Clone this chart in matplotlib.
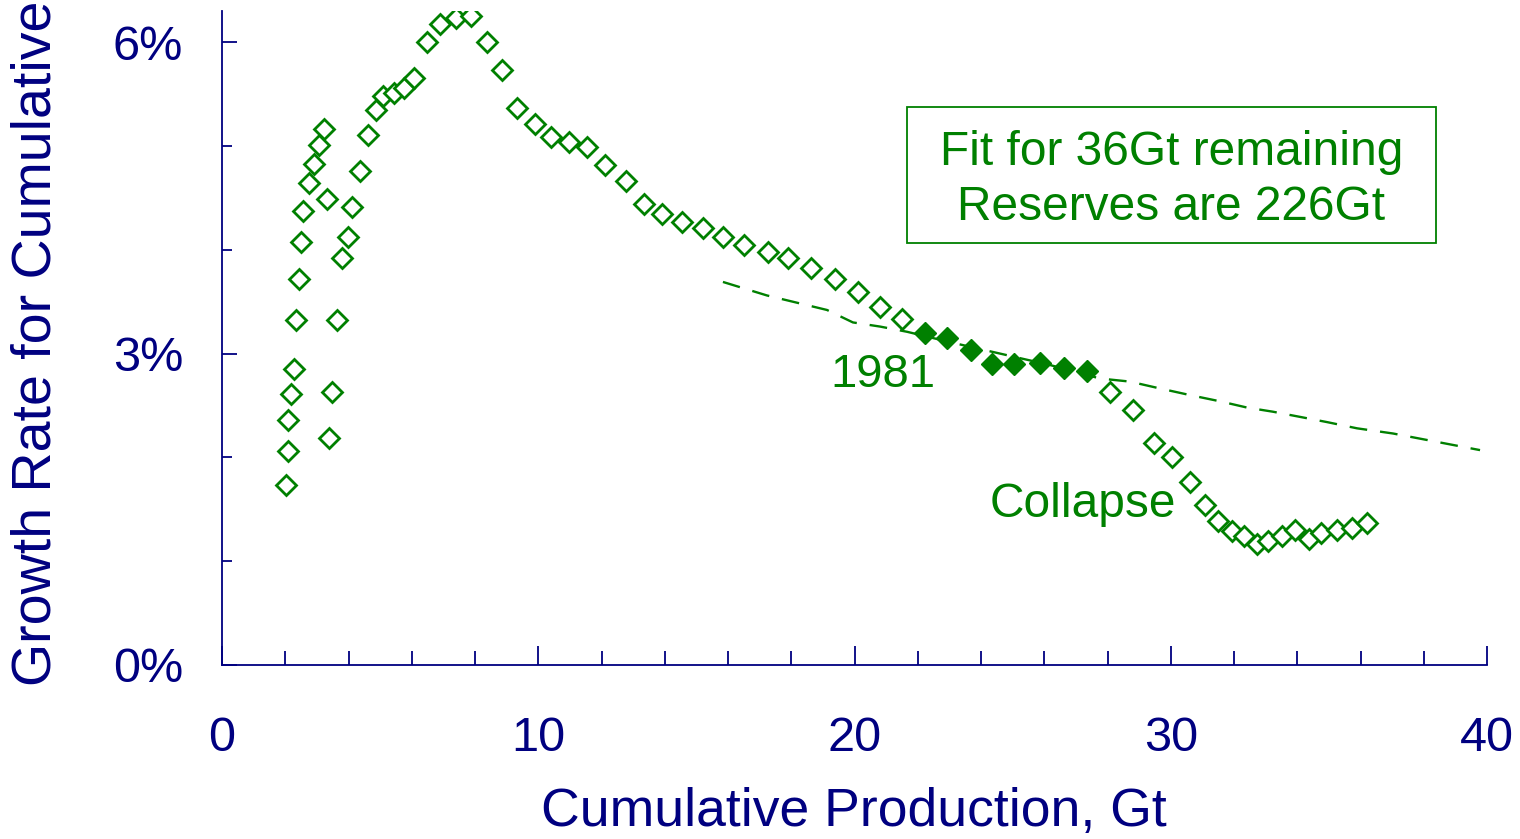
import matplotlib.pyplot as plt
from matplotlib.patches import Rectangle

# cumulative production (Gt) and growth rate (%)
cum_open = [2.02, 2.09, 2.09, 2.18, 2.28, 2.34, 2.43, 2.50, 2.56, 2.75, 2.91, 3.07, 3.23,
            3.32, 3.38, 3.48, 3.64, 3.79, 3.98, 4.11, 4.36, 4.62, 4.87, 5.09, 5.44, 5.75,
            6.07, 6.48, 6.89, 7.40, 7.87, 8.38, 8.85, 9.33, 9.90, 10.40, 10.97, 11.54,
            12.11, 12.77, 13.34, 13.91, 14.55, 15.21, 15.84, 16.51, 17.26, 17.90, 18.62,
            19.38, 20.11, 20.81, 21.50,
            28.08, 28.81, 29.47, 30.04, 30.61, 31.08, 31.49, 31.94, 32.32, 32.73, 33.08,
            33.52, 33.93, 34.37, 34.75, 35.26, 35.73, 36.21]
rate_open = [1.73, 2.06, 2.36, 2.61, 2.85, 3.32, 3.72, 4.07, 4.37, 4.64, 4.83, 5.01, 5.16,
             4.49, 2.19, 2.63, 3.32, 3.92, 4.12, 4.41, 4.76, 5.11, 5.35, 5.48, 5.51, 5.56,
             5.65, 6.00, 6.17, 6.23, 6.25, 6.00, 5.73, 5.37, 5.21, 5.09, 5.04, 4.99,
             4.82, 4.66, 4.44, 4.34, 4.27, 4.21, 4.12, 4.05, 3.98, 3.92, 3.82,
             3.72, 3.59, 3.45, 3.33,
             2.63, 2.46, 2.14, 2.00, 1.76, 1.54, 1.39, 1.29, 1.24, 1.17, 1.19,
             1.24, 1.30, 1.21, 1.27, 1.30, 1.32, 1.37]

# points used for the fit (filled)
cum_fit = [22.23, 22.92, 23.68, 24.35, 25.04, 25.87, 26.62, 27.35]
rate_fit = [3.20, 3.15, 3.03, 2.90, 2.90, 2.91, 2.86, 2.83]

# fitted curve (dashed)
cum_curve = [15.84, 17.23, 18.18, 19.13, 19.95, 20.81, 21.66, 23.02, 24.60, 26.18, 27.76,
             28.71, 29.57, 30.61, 31.56, 32.41, 33.23, 34.09, 34.94, 35.89, 37.03, 39.78]
rate_curve = [3.69, 3.56, 3.49, 3.42, 3.30, 3.26, 3.21, 3.11, 3.00, 2.89, 2.76,
              2.73, 2.67, 2.60, 2.54, 2.48, 2.44, 2.39, 2.34, 2.28, 2.23, 2.07]

navy = '#000080'
green = '#008000'
plt.rcParams['font.family'] = ['Liberation Sans', 'DejaVu Sans']

fig = plt.figure(figsize=(15.2, 8.39), dpi=100)
ax = fig.add_axes([222 / 1520, 1 - 665 / 839, (1487 - 222) / 1520, (665 - 11) / 839])

ax.plot(cum_curve, rate_curve, color=green, lw=1.7, dashes=[7.5, 5.5])
ax.plot(cum_open, rate_open, 'D', ls='none', ms=10, mfc='white', mec=green, mew=2)
ax.plot(cum_fit, rate_fit, 'D', ls='none', ms=11, mfc=green, mec=green, mew=1)

ax.set_xlim(0, 40)
ax.set_ylim(0, 6.3)

ax.spines['top'].set_visible(False)
ax.spines['right'].set_visible(False)
for s in ['left', 'bottom']:
    ax.spines[s].set_color(navy)
    ax.spines[s].set_linewidth(1.3)

ax.set_xticks([0, 10, 20, 30, 40])
ax.set_xticks(range(0, 41, 2), minor=True)
ax.set_yticks([0, 3, 6])
ax.set_yticklabels(['0%', '3%', '6%'])
ax.set_yticks([1, 2, 4, 5], minor=True)

ax.tick_params(axis='x', which='major', direction='in', length=14, width=1.3,
               colors=navy, labelsize=35, pad=37)
ax.tick_params(axis='x', which='minor', direction='in', length=10, width=1.3, colors=navy)
ax.tick_params(axis='y', which='major', direction='in', length=11, width=1.3,
               colors=navy, labelsize=35, pad=28)
ax.tick_params(axis='y', which='minor', direction='in', length=7, width=1.3, colors=navy)

fig.text(854 / 1520, 1 - 812 / 839, 'Cumulative Production, Gt', color=navy,
         fontsize=38.5, ha='center', va='center')
fig.text(37 / 1520, 1 - 686 / 839, 'Growth Rate for Cumulative', color=navy,
         fontsize=40, rotation=90, ha='center', va='bottom')

ax.text(20.9, 2.79, '1981', color=green, fontsize=34, ha='center', va='center')
ax.text(27.22, 1.55, 'Collapse', color=green, fontsize=34.5, ha='center', va='center')

# boxed note
ax.add_patch(Rectangle((0.5415, 0.6453), 0.4182, 0.2079, transform=ax.transAxes,
                       fc='white', ec=green, lw=1.3))
ax.text(0.7506, 0.7416, 'Fit for 36Gt remaining\nReserves are 226Gt', color=green,
        fontsize=34.5, ha='center', va='center', linespacing=1.3,
        transform=ax.transAxes)

fig.savefig('out.png', dpi=100)
